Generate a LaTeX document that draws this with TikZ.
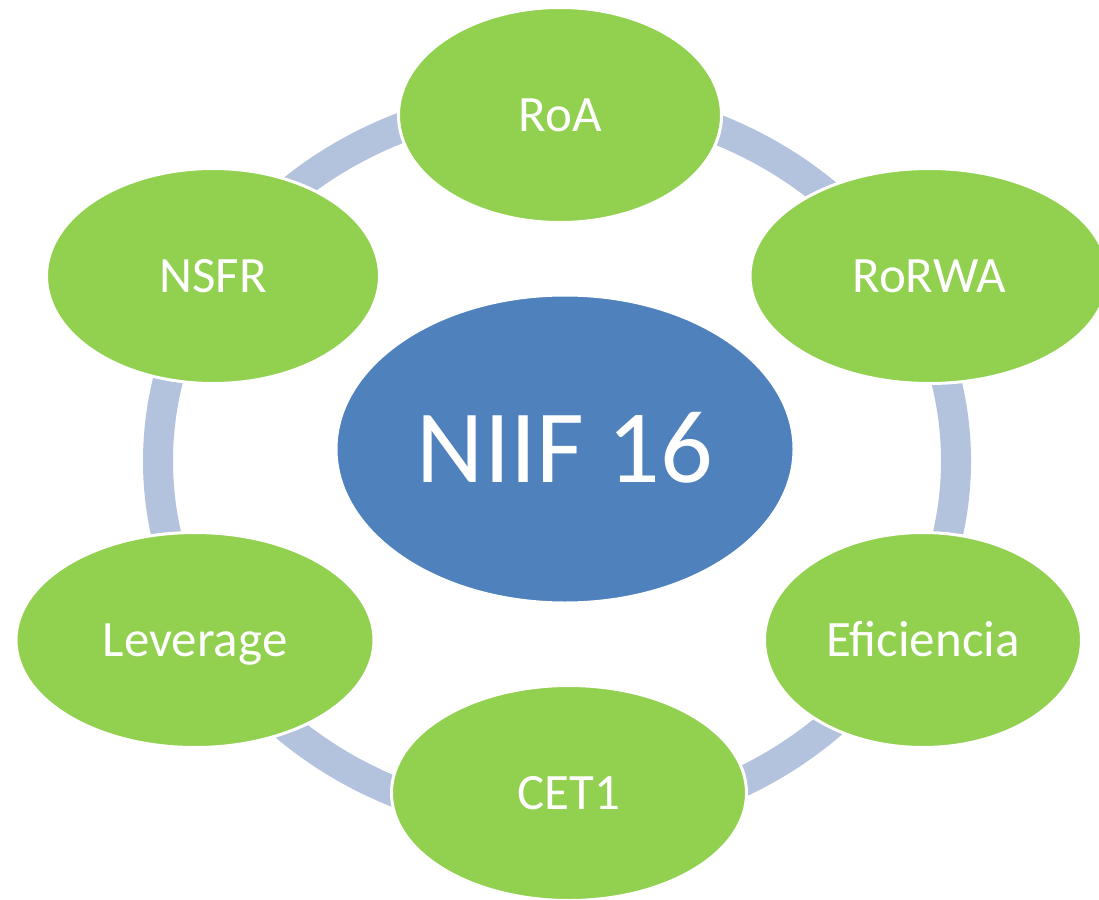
\documentclass[tikz,border=0pt]{standalone}
\usepackage{fontspec}
\setmainfont{Carlito}
\usetikzlibrary{shapes.geometric}
\definecolor{leafgreen}{HTML}{92D050}
\definecolor{coreblue}{HTML}{4F81BD}
\definecolor{ringblue}{HTML}{B3C2DD}
\tikzset{
	leaf/.style={ellipse, fill=leafgreen, draw=white, line width=3pt, text=white, inner sep=0pt,
		minimum height=215pt, font=\fontsize{51}{51}\selectfont, text height=33pt, text depth=0pt},
	core/.style={ellipse, fill=coreblue, draw=white, line width=3pt, text=white, inner sep=0pt,
		minimum width=458pt, minimum height=308pt, font=\fontsize{104}{104}\selectfont, text height=67pt, text depth=0pt},
	ring/.style={draw=ringblue, line width=30pt}
}

\begin{document}
\begin{tikzpicture}[x=1pt, y=-1pt]
			%%%%% START %%%%%
			\useasboundingbox (0, 0) rectangle (1099, 899);
			
			\draw[ring] (557, 461) ellipse [x radius=399pt, y radius=362pt];
			
			\node[core] (niif) at (565, 449) {NIIF 16};
			
			\node[leaf, minimum width=323pt] (roa) at (560, 115) {RoA};
			\node[leaf, minimum width=358pt] (rorwa) at (929, 276) {RoRWA};
			\node[leaf, minimum width=317pt] (efic) at (923, 640) {Eficiencia};
			\node[leaf, minimum width=355pt] (cet) at (569, 793) {CET1};
			\node[leaf, minimum width=358pt] (lev) at (195, 640) {Leverage};
			\node[leaf, minimum width=333pt] (nsfr) at (213, 276) {NSFR};
			
			%%%%% END %%%%%
\end{tikzpicture}
\end{document}
